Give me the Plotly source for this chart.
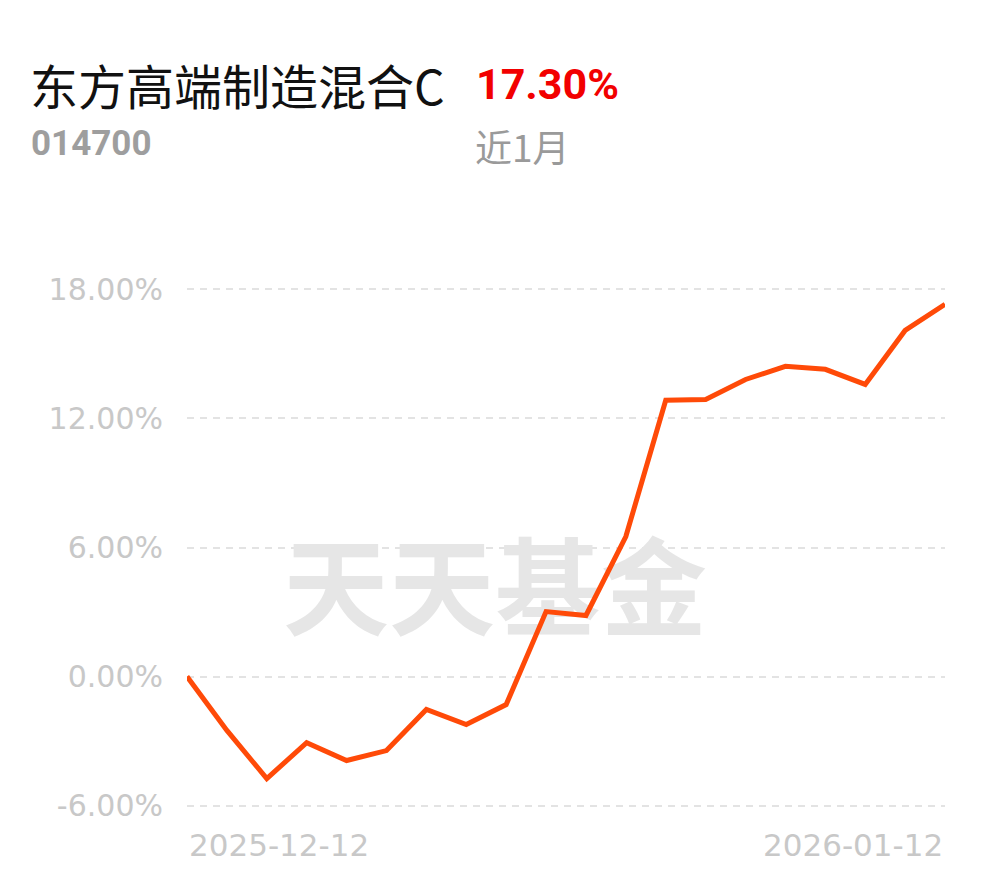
import plotly.graph_objects as go

# ---- data ----
dates = ["2025-12-12", "2025-12-15", "2025-12-16", "2025-12-17", "2025-12-18",
         "2025-12-19", "2025-12-22", "2025-12-23", "2025-12-24", "2025-12-25",
         "2025-12-26", "2025-12-29", "2025-12-30", "2025-12-31", "2026-01-05",
         "2026-01-06", "2026-01-07", "2026-01-08", "2026-01-09", "2026-01-12"]
returns = [0.00, -2.50, -4.74, -3.07, -3.90, -3.44, -1.53, -2.23, -1.30, 3.02,
           2.84, 6.51, 12.84, 12.88, 13.81, 14.42, 14.28, 13.58, 16.09, 17.30]
y_ticks = [-6, 0, 6, 12, 18]
fund_name = "东方高端制造混合C"
fund_code = "014700"
period_label = "近1月"
period_return = "17.30%"
watermark = "天天基金"

OFF = 8  # page body margin
W, H = 990 - OFF, 878 - OFF
ML, MT = 179, 277
PW, PH = 758, 525
MR, MB = W - ML - PW, H - MT - PH

def px(x_page):
    return (x_page - OFF - ML) / PW

def py(y_page):
    return 1 - (y_page - OFF - MT) / PH

idx = list(range(len(dates)))

fig = go.Figure()

# watermark (below the line)
fig.add_trace(go.Scatter(
    x=[px(495) * (len(dates) - 1)], y=[3.55],
    mode="text", text=[watermark],
    textfont=dict(family="Noto Sans CJK SC", size=106, color="#e6e6e6", weight="bold"),
    hoverinfo="skip", showlegend=False, cliponaxis=False,
))

fig.add_trace(go.Scatter(
    x=idx, y=returns, mode="lines",
    line=dict(color="#ff4a08", width=5),
    cliponaxis=False, showlegend=False,
    customdata=dates, hovertemplate="%{customdata}: %{y:.2f}%<extra></extra>",
))

fig.update_layout(
    width=W, height=H,
    margin=dict(l=ML, r=MR, t=MT, b=MB),
    paper_bgcolor="white", plot_bgcolor="white",
    showlegend=False,
    xaxis=dict(range=[0, len(dates) - 1], showgrid=False, zeroline=False,
               showticklabels=False, showline=False, fixedrange=True),
    yaxis=dict(range=[-6.2, 18.2], tickvals=y_ticks,
               ticktext=[f"{v:.2f}%" for v in y_ticks],
               showgrid=True, gridcolor="#e3e3e3", gridwidth=2, griddash="7px,6px",
               zeroline=False, showline=False,
               tickfont=dict(family="DejaVu Sans", size=30, color="#c8c8c8"),
               ticklabelstandoff=23, fixedrange=True),
)

annos = [
    dict(text=fund_name, x=px(28), y=py(84), xanchor="left", yanchor="middle",
         font=dict(family="Noto Sans CJK SC", size=48, color="#111111")),
    dict(text=f"<b>{period_return}</b>", x=px(474), y=py(84), xanchor="left", yanchor="middle",
         font=dict(family="Roboto", size=43, color="#f20000")),
    dict(text=f"<b>{fund_code}</b>", x=px(29), y=py(144), xanchor="left", yanchor="middle",
         font=dict(family="Roboto", size=35, color="#9e9e9e")),
    dict(text=period_label, x=px(473), y=py(146), xanchor="left", yanchor="middle",
         font=dict(family="Noto Sans CJK SC", size=37, color="#9a9a9a")),
    dict(text=dates[0], x=0, xref="x", y=py(845), yref="paper", xanchor="left", yanchor="middle",
         font=dict(family="DejaVu Sans", size=31, color="#c8c8c8")),
    dict(text=dates[-1], x=len(dates) - 1, xref="x", y=py(845), yref="paper",
         xanchor="right", yanchor="middle",
         font=dict(family="DejaVu Sans", size=31, color="#c8c8c8")),
]
for a in annos:
    a.setdefault("xref", "paper")
    a.setdefault("yref", "paper")
    a["showarrow"] = False
    fig.add_annotation(**a)

fig.write_html("out.html")
